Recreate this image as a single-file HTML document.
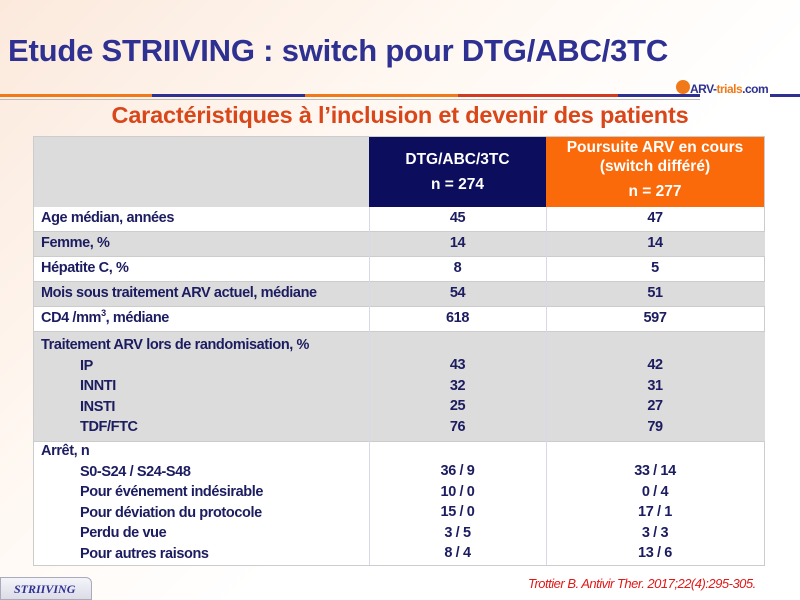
<!DOCTYPE html>
<html><head><meta charset="utf-8"><style>
body{margin:0;width:800px;height:600px;overflow:hidden;position:relative;font-family:"Liberation Sans",sans-serif;
background:linear-gradient(135deg,#fbe9dc 0%,#fff8f2 35%,#ffffff 60%);}
.a{position:absolute;}
.t{font-weight:bold;color:#1c1c60;font-size:14.5px;letter-spacing:-0.4px;}
.c{text-align:center;}
sup{font-size:9px;line-height:0;vertical-align:6px}
</style></head><body>
<div class="a" style="left:8px;top:33px;font-size:31px;font-weight:bold;color:#2e3192;letter-spacing:-0.2px;">Etude STRIIVING : switch pour DTG/ABC/3TC</div>
<div class="a" style="left:0;top:94px;width:152px;height:3px;background:#f07a1a"></div>
<div class="a" style="left:152px;top:94px;width:153px;height:3px;background:#2e3192"></div>
<div class="a" style="left:305px;top:94px;width:153px;height:3px;background:#f07a1a"></div>
<div class="a" style="left:458px;top:94px;width:160px;height:3px;background:#d03a20"></div>
<div class="a" style="left:618px;top:94px;width:82px;height:3px;background:#2e3192"></div>
<div class="a" style="left:770px;top:94px;width:30px;height:3px;background:#2e3192"></div>
<div class="a" style="left:0;top:99px;width:700px;height:1px;background:#bbb"></div>
<div class="a" style="left:676px;top:80px;width:14px;height:14px;border-radius:50%;background:#f07a1a"></div>
<div class="a" style="left:690px;top:82px;font-size:12px;color:#2e3192;font-weight:bold;letter-spacing:-0.5px">ARV-<span style="color:#f07a1a">trials</span>.com</div>
<div class="a" style="left:0;width:800px;top:102px;text-align:center;font-size:23.5px;font-weight:bold;color:#d8461a;letter-spacing:-0.2px">Caractéristiques à l’inclusion et devenir des patients</div>

<div class="a" style="left:33px;top:136px;width:732px;height:430px;background:#fff;border:1px solid #ccc;box-sizing:border-box"></div>
<div class="a" style="left:34px;top:137px;width:335px;height:70px;background:#dcdcdc"></div>
<div class="a" style="left:369px;top:137px;width:177px;height:70px;background:#0d0d5e"></div>
<div class="a" style="left:546px;top:137px;width:218px;height:70px;background:#fb6a0a"></div>
<div class="a c" style="left:369px;top:147px;width:177px;color:#fff;font-weight:bold;font-size:15.5px;line-height:25px">DTG/ABC/3TC<br>n = 274</div>
<div class="a c" style="left:546px;top:138px;width:218px;color:#fff;font-weight:bold;font-size:15.5px;line-height:19px">Poursuite ARV en cours<br>(switch différé)<br><span style="line-height:32px">n = 277</span></div>

<div class="a" style="left:34px;top:232px;width:731px;height:25px;background:#dcdcdc"></div>
<div class="a" style="left:34px;top:282px;width:731px;height:25px;background:#dcdcdc"></div>
<div class="a" style="left:34px;top:332px;width:731px;height:109px;background:#dcdcdc"></div>
<div class="a" style="left:34px;top:231px;width:731px;height:1px;background:#ccc"></div>
<div class="a" style="left:34px;top:256px;width:731px;height:1px;background:#ccc"></div>
<div class="a" style="left:34px;top:281px;width:731px;height:1px;background:#ccc"></div>
<div class="a" style="left:34px;top:306px;width:731px;height:1px;background:#ccc"></div>
<div class="a" style="left:34px;top:331px;width:731px;height:1px;background:#ccc"></div>
<div class="a" style="left:34px;top:441px;width:731px;height:1px;background:#ccc"></div>
<div class="a" style="left:369px;top:207px;width:1px;height:358px;background:#d8d8e8"></div>
<div class="a" style="left:546px;top:207px;width:1px;height:358px;background:#d8d8e8"></div>

<div class="a t" style="left:41px;top:210px">Age médian, années</div>
<div class="a t" style="left:41px;top:235px">Femme, %</div>
<div class="a t" style="left:41px;top:260px">Hépatite C, %</div>
<div class="a t" style="left:41px;top:285px">Mois sous traitement ARV actuel, médiane</div>
<div class="a t" style="left:41px;top:310px">CD4 /mm<sup>3</sup>, médiane</div>
<div class="a t" style="left:41px;top:335px;line-height:20.5px">Traitement ARV lors de randomisation, %<br><span style="padding-left:39px">IP</span><br><span style="padding-left:39px">INNTI</span><br><span style="padding-left:39px">INSTI</span><br><span style="padding-left:39px">TDF/FTC</span></div>
<div class="a t" style="left:41px;top:441px;line-height:20.5px">Arrêt, n<br><span style="padding-left:39px">S0-S24 / S24-S48</span><br><span style="padding-left:39px">Pour événement indésirable</span><br><span style="padding-left:39px">Pour déviation du protocole</span><br><span style="padding-left:39px">Perdu de vue</span><br><span style="padding-left:39px">Pour autres raisons</span></div>

<div class="a t c" style="left:369px;width:177px;top:210px">45</div>
<div class="a t c" style="left:369px;width:177px;top:235px">14</div>
<div class="a t c" style="left:369px;width:177px;top:260px">8</div>
<div class="a t c" style="left:369px;width:177px;top:285px">54</div>
<div class="a t c" style="left:369px;width:177px;top:310px">618</div>
<div class="a t c" style="left:369px;width:177px;top:355px;line-height:20.5px">43<br>32<br>25<br>76</div>
<div class="a t c" style="left:369px;width:177px;top:461px;line-height:20.5px">36 / 9<br>10 / 0<br>15 / 0<br>3 / 5<br>8 / 4</div>

<div class="a t c" style="left:546px;width:218px;top:210px">47</div>
<div class="a t c" style="left:546px;width:218px;top:235px">14</div>
<div class="a t c" style="left:546px;width:218px;top:260px">5</div>
<div class="a t c" style="left:546px;width:218px;top:285px">51</div>
<div class="a t c" style="left:546px;width:218px;top:310px">597</div>
<div class="a t c" style="left:546px;width:218px;top:355px;line-height:20.5px">42<br>31<br>27<br>79</div>
<div class="a t c" style="left:546px;width:218px;top:461px;line-height:20.5px">33 / 14<br>0 / 4<br>17 / 1<br>3 / 3<br>13 / 6</div>

<div class="a" style="left:0;top:577px;width:92px;height:23px;background:linear-gradient(#f4f4fa,#dcdce8);border:1px solid #aab;border-radius:0 6px 0 0;box-sizing:border-box"></div>
<div class="a" style="left:14px;top:582px;font-family:'Liberation Serif',serif;font-style:italic;font-weight:bold;font-size:12px;color:#2e3192">STRIIVING</div>
<div class="a" style="left:528px;top:576px;font-size:13px;font-style:italic;color:#e01818;letter-spacing:-0.5px">Trottier B. Antivir Ther. 2017;22(4):295-305.</div>
</body></html>
